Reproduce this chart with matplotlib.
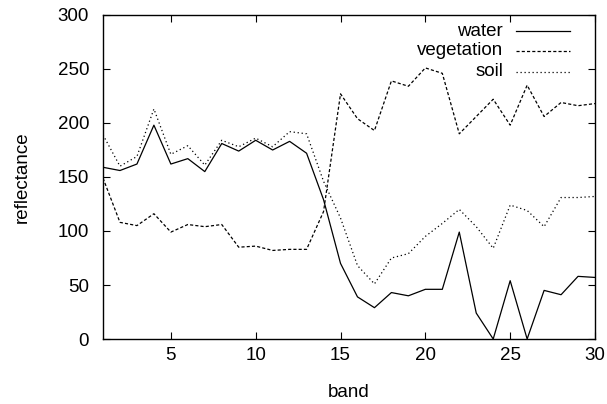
import matplotlib
matplotlib.use("Agg")
import matplotlib.pyplot as plt

plt.rcParams['font.family'] = ['Liberation Sans', 'DejaVu Sans']

bands = list(range(1, 31))
water = [159, 156, 162, 198, 162, 167, 155, 181, 174, 184, 175, 183, 172, 129, 70,
         39, 29, 43, 40, 46, 46, 99, 24, 0, 54, 0, 45, 41, 58, 57]
vegetation = [149, 108, 105, 116, 99, 106, 104, 106, 85, 86, 82, 83, 83, 118, 227,
              204, 193, 239, 234, 251, 246, 190, 206, 222, 198, 235, 206, 219, 216, 218]
soil = [189, 160, 169, 213, 171, 179, 161, 184, 178, 186, 178, 192, 190, 146, 112,
        68, 51, 75, 79, 95, 107, 120, 104, 84, 124, 119, 104, 131, 131, 132]

series_names = ['water', 'vegetation', 'soil']
xticks = [5, 10, 15, 20, 25, 30]
yticks = [0, 50, 100, 150, 200, 250, 300]

FS = 13.5
fig = plt.figure(figsize=(6.07, 4.04), dpi=100)
ax = fig.add_axes([103/607, 1 - 339/404, 492/607, 324/404])

lw = 0.9
styles = ['-', (0, (2.5, 1.7)), (0, (1, 2.2))]
for name, vals, ls in zip(series_names, [water, vegetation, soil], styles):
    ax.plot(bands, vals, color='black', lw=lw, linestyle=ls)

ax.set_xlim(1, 30)
ax.set_ylim(0, 300)
ax.set_xticks(xticks)
ax.set_yticks(yticks)
ax.tick_params(direction='in', length=5, width=0.8, top=True, right=True, labelsize=FS)
ax.tick_params(axis='x', pad=6)
ax.tick_params(axis='y', pad=10)
for s in ax.spines.values():
    s.set_linewidth(1.0)

ax.set_xlabel('band', fontsize=FS, labelpad=14)
ax.set_ylabel('reflectance', fontsize=FS, labelpad=19.5)

# legend (gnuplot style: right-aligned text, then line sample)
row_y = [0.9506, 0.8889, 0.8256]
for name, ls, yy in zip(series_names, styles, row_y):
    ax.text(0.813, yy, name, transform=ax.transAxes, ha='right', va='center',
            fontsize=FS)
    ax.plot([0.8394, 0.9492], [yy, yy], transform=ax.transAxes, color='black',
            lw=lw, linestyle=ls)

fig.savefig('out.png', dpi=100)
